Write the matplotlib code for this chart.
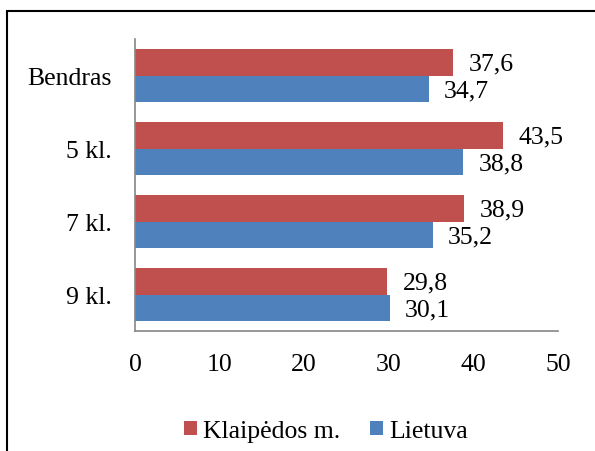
import numpy as np
import matplotlib.pyplot as plt
from matplotlib.patches import Rectangle

# duomenys
categories = ['Bendras', '5 kl.', '7 kl.', '9 kl.']
klaipeda = [37.6, 43.5, 38.9, 29.8]
lietuva = [34.7, 38.8, 35.2, 30.1]
xticks = [0, 10, 20, 30, 40, 50]

red = '#C0504D'
blue = '#4F81BD'
axis_gray = '#868686'

plt.rcParams['font.family'] = 'serif'
plt.rcParams['font.serif'] = ['Liberation Serif']
fam = 'Liberation Serif'
fs = 18.5

fig = plt.figure(figsize=(5.95, 4.52), dpi=100)
ax = fig.add_axes([135 / 595, 1 - 332 / 452, 423 / 595, 292 / 452])

y = np.arange(len(categories))[::-1]
h = 0.363
b1 = ax.barh(y + h / 2, klaipeda, height=h, color=red, label='Klaipėdos m.')
b2 = ax.barh(y - h / 2, lietuva, height=h, color=blue, label='Lietuva')

for bars, vals in [(b1, klaipeda), (b2, lietuva)]:
    for bar, v in zip(bars, vals):
        ax.annotate(f'{v:.1f}'.replace('.', ','),
                    xy=(v, bar.get_y() + bar.get_height() / 2),
                    xytext=(11, -1), textcoords='offset points',
                    ha='left', va='center', fontsize=fs, family=fam)

ax.set_xlim(0, 50)
ax.set_ylim(-0.5, len(categories) - 0.5)
ax.set_xticks(xticks)
ax.set_xticklabels([str(t) for t in xticks], fontsize=fs, family=fam)
ax.set_yticks(y)
ax.set_yticklabels(categories, fontsize=fs, family=fam)
ax.tick_params(axis='both', length=0)
ax.tick_params(axis='x', pad=16)
ax.tick_params(axis='y', pad=17)

for s in ['top', 'right']:
    ax.spines[s].set_visible(False)
for s in ['left', 'bottom']:
    ax.spines[s].set_color(axis_gray)
    ax.spines[s].set_linewidth(1.2)

fig.legend(handles=[b1, b2], loc='center', bbox_to_anchor=(326 / 595, 1 - 432 / 452),
           ncol=2, frameon=False, prop={'family': fam, 'size': fs},
           handlelength=0.5, handleheight=0.5, handletextpad=0.25, columnspacing=1.15)

# rėmelis
fig.patches.append(Rectangle((7 / 595, -0.1), 1.2, 1 - 12 / 452 + 0.1,
                             transform=fig.transFigure, fill=False,
                             edgecolor='black', linewidth=1.5))

fig.savefig('out.png', dpi=100)
